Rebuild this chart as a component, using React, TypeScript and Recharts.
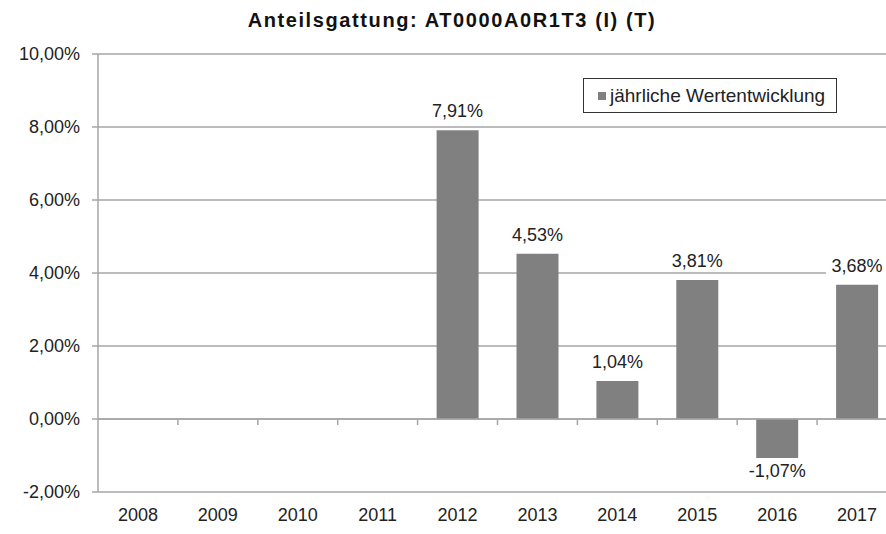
import React from "react";
import {
  BarChart, Bar, XAxis, YAxis, CartesianGrid,
  LabelList, ReferenceLine,
} from "recharts";

const years = ["2008", "2009", "2010", "2011", "2012", "2013", "2014", "2015", "2016", "2017"];
const returns: (number | null)[] = [null, null, null, null, 7.91, 4.53, 1.04, 3.81, -1.07, 3.68];
const yTicks = [-2, 0, 2, 4, 6, 8, 10];
const seriesName = "jährliche Wertentwicklung";

const data = years.map((year, i) => ({ year, value: returns[i] }));

const FONT = '"Liberation Sans", Arial, sans-serif';
const GRID = "#a6a6a6";
const BAR = "#808080";
const TEXT = "#222";

const fmt = (v: number) => v.toFixed(2).replace(".", ",") + "%";

// value label with a white box behind it (it breaks the gridlines like the original)
function ValueLabel(props: any) {
  const { x, y, width, height, value } = props;
  if (value == null) return null;
  const top = Math.min(y, y + height);
  const bottom = Math.max(y, y + height);
  const cx = x + width / 2;
  const cy = value < 0 ? bottom + 13 : top - 19;
  const w = 62;
  const h = 22;
  return (
    <g>
      <rect x={cx - w / 2} y={cy - h / 2} width={w} height={h} fill="#fff" />
      <text x={cx} y={cy} textAnchor="middle" dominantBaseline="central"
        fontSize={18} fill={TEXT} fontFamily={FONT}>
        {fmt(value)}
      </text>
    </g>
  );
}

// zero line with small ticks between the categories (Excel style)
function ZeroAxis(props: any) {
  const { x1, x2, y1 } = props;
  if (x1 == null) return null;
  const step = (x2 - x1) / years.length;
  return (
    <g>
      <line x1={x1} x2={x2} y1={y1} y2={y1} stroke={GRID} strokeWidth={1.5} />
      {years.map((_, i) => (
        <line key={i} x1={x1 + step * (i + 1)} x2={x1 + step * (i + 1)} y1={y1} y2={y1 + 6}
          stroke={GRID} strokeWidth={1.5} />
      ))}
    </g>
  );
}

export default function App() {
  return (
    <div style={{
      position: "fixed", left: 0, top: 0, width: 886, height: 534,
      overflow: "hidden", background: "#fff",
    }}>
      <div style={{
        position: "absolute", top: 9, left: 0, width: 904, textAlign: "center",
        fontFamily: FONT, fontWeight: "bold", fontSize: 20, letterSpacing: 1.6, color: "#111",
      }}>
        Anteilsgattung: AT0000A0R1T3 (I) (T)
      </div>

      <BarChart
        width={905}
        height={534}
        data={data}
        margin={{ top: 54, right: 8, bottom: 12, left: 0 }}
      >
        <CartesianGrid vertical={false} stroke={GRID} strokeWidth={1.5} />
        <XAxis
          dataKey="year"
          height={30}
          axisLine={false}
          tickLine={false}
          tickMargin={10}
          tick={{ fontSize: 18, fill: TEXT, fontFamily: FONT }}
        />
        <YAxis
          width={98}
          domain={[-2, 10]}
          ticks={yTicks}
          interval={0}
          tickFormatter={fmt}
          axisLine={{ stroke: GRID, strokeWidth: 1.5 }}
          tickLine={{ stroke: GRID, strokeWidth: 1.5 }}
          tickSize={6}
          tickMargin={12}
          tick={{ fontSize: 18, fill: TEXT, fontFamily: FONT }}
        />
        <ReferenceLine y={0} shape={<ZeroAxis />} />
        <Bar dataKey="value" name={seriesName} fill={BAR} barSize={42} isAnimationActive={false}>
          <LabelList dataKey="value" content={<ValueLabel />} />
        </Bar>
      </BarChart>

      {/* legend box */}
      <div style={{
        position: "absolute", left: 583, top: 78, width: 252, height: 33,
        border: "1px solid #333", background: "#fff",
        display: "flex", alignItems: "center",
        fontFamily: FONT, fontSize: 19, color: TEXT,
      }}>
        <span style={{ width: 8, height: 8, background: BAR, margin: "0 4px 0 14px", display: "inline-block" }} />
        {seriesName}
      </div>
    </div>
  );
}
